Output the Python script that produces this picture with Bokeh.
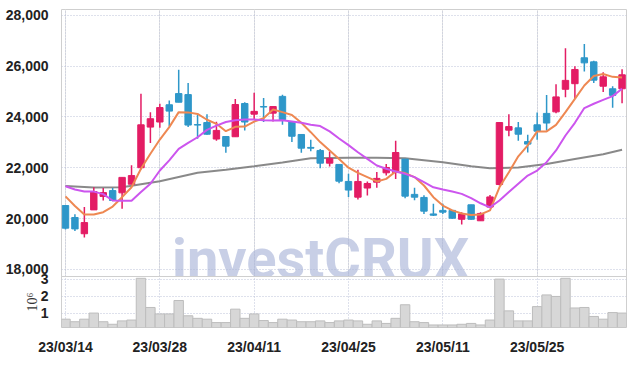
from bokeh.plotting import figure
from bokeh.layouts import column
from bokeh.models import Range1d, FixedTicker, Grid, Label, NumeralTickFormatter
from bokeh.embed import file_html
from bokeh.resources import INLINE

# ---- data ----
idx = list(range(60))
opens = [20510, 20040, 19400, 20340, 20870, 21100, 21010, 21350, 22000, 23600,
         23800, 24480, 24920, 24880, 23700, 23780, 23130, 23230, 23220, 24530,
         24110, 24410, 24150, 24810, 23820, 23310, 22800, 22680, 22180, 22130,
         21460, 20840, 21200, 21430, 21800, 21810, 22340, 20950, 20830, 20180,
         20320, 20320, 19970, 20540, 19910, 20450, 21340, 23480, 23570, 23030,
         23690, 24140, 24200, 25090, 25310, 26330, 26170, 25210, 25110, 25110]
highs = [20520, 20170, 20450, 21230, 21200, 21200, 21620, 22100, 24910, 24190,
         24520, 24650, 25860, 25340, 24080, 24110, 23810, 23230, 24710, 24580,
         24950, 24750, 24410, 24870, 23820, 23310, 23100, 22740, 22640, 22130,
         21760, 21920, 21460, 21830, 22150, 23060, 22340, 21210, 20920, 20580,
         20580, 20320, 20250, 20540, 20250, 20930, 23800, 24110, 23800, 23300,
         24180, 24860, 25290, 26710, 26000, 26870, 26210, 25760, 25210, 25880]
lows = [19570, 19510, 19250, 20340, 20710, 20680, 20380, 21350, 21930, 22970,
        23570, 23620, 24580, 23600, 23140, 23300, 23060, 22590, 23220, 23470,
        23900, 23800, 23820, 23690, 23010, 22590, 22650, 21980, 22050, 21390,
        20850, 20750, 20910, 21210, 21690, 21560, 20800, 20720, 20180, 20100,
        20180, 19990, 19760, 19950, 19910, 20410, 21300, 23240, 23060, 22600,
        23100, 23470, 24150, 24780, 24710, 25790, 25340, 24980, 24360, 24540]
closes = [19620, 19590, 19840, 21060, 21020, 20710, 21620, 21690, 23690, 23930,
          24370, 24230, 24580, 23680, 23680, 23320, 23470, 22850, 24490, 23800,
          24220, 24390, 24410, 23900, 23240, 22770, 22770, 22180, 22360, 21470,
          21120, 21460, 21380, 21580, 22010, 22600, 20880, 20840, 20290, 20130,
          20250, 20010, 20180, 19970, 20200, 20850, 23780, 23620, 23320, 22930,
          23440, 23760, 24790, 25440, 25870, 26130, 25450, 25580, 24850, 25660]
volumes = [0.64, 0.49, 0.64, 1.00, 0.49, 0.34, 0.54, 0.59, 3.05, 1.33,
           0.95, 0.95, 1.74, 0.84, 0.69, 0.64, 0.44, 0.44, 1.23, 0.69,
           0.95, 0.56, 0.44, 0.64, 0.59, 0.49, 0.49, 0.54, 0.44, 0.54,
           0.59, 0.54, 0.34, 0.54, 0.39, 0.69, 1.49, 0.49, 0.44, 0.30,
           0.30, 0.30, 0.34, 0.39, 0.30, 0.59, 3.00, 1.13, 0.54, 0.54,
           1.38, 2.07, 1.98, 3.05, 1.30, 1.33, 0.80, 0.64, 1.03, 1.00]
ma5 = [20870, 20490, 20160, 20160, 20250, 20470, 20840, 21230, 21960, 22550,
       23110, 23600, 24190, 24180, 24120, 23890, 23730, 23440, 23610, 23620,
       23820, 23950, 24290, 24190, 24080, 23770, 23400, 23010, 22680, 22340,
       22000, 21800, 21630, 21460, 21560, 21850, 21790, 21630, 21300, 20840,
       20510, 20320, 20200, 20140, 20160, 20320, 21230, 21820, 22450, 22880,
       23430, 23430, 23690, 24190, 24710, 25240, 25610, 25690, 25580, 25550]
ma10 = [21270, 21140, 21060, 21060, 20960, 20710, 20700, 20700, 21040, 21370,
        21890, 22290, 22740, 22980, 23200, 23490, 23660, 23800, 23870, 23900,
        23900, 23870, 23860, 23870, 23820, 23770, 23690, 23640, 23430, 23150,
        22890, 22610, 22350, 22090, 21960, 21850, 21760, 21630, 21430, 21230,
        21140, 21060, 20970, 20800, 20600, 20440, 20710, 21040, 21370, 21690,
        21890, 22220, 22680, 23270, 23770, 24350, 24520, 24670, 24820, 25110]
ma_long_idx = [0, 3, 6, 10, 14, 17, 20, 23, 26, 30, 33, 36, 40, 43, 45, 48, 51, 54, 57, 59]
ma_long = [21280, 21220, 21230, 21470, 21800, 21920, 22060, 22210, 22370, 22390,
           22390, 22370, 22220, 22060, 21980, 22010, 22150, 22340, 22530, 22710]
tick_idx = [0, 10, 20, 30, 40, 50]
tick_labels = ["23/03/14", "23/03/28", "23/04/11", "23/04/25", "23/05/11", "23/05/25"]
price_ticks = [18000, 20000, 22000, 24000, 26000, 28000]
vol_ticks = [1, 2, 3]

UP = "#e31c64"
DOWN = "#2e97c9"
GRID = "#bcc2d8"
LABEL_FONT = "Liberation Sans"
LABEL_SIZE = "14px"

xr = Range1d(-0.424, 59.47)

# main (price) panel: frame 9..276 px
p = figure(width=627, height=279, output_backend="svg", toolbar_location=None,
           x_range=xr, y_range=Range1d(17716, 28232), x_axis_location=None,
           min_border_left=61, min_border_right=1, min_border_top=9, min_border_bottom=3)
p.outline_line_color = "#cfcfcf"
p.yaxis.ticker = FixedTicker(ticks=price_ticks)
p.yaxis.formatter = NumeralTickFormatter(format="0,0")
p.yaxis.axis_line_color = None
p.yaxis.major_tick_line_color = None
p.yaxis.minor_tick_line_color = None
p.yaxis.major_label_standoff = 7
p.yaxis.major_label_text_font = LABEL_FONT
p.yaxis.major_label_text_font_style = "bold"
p.yaxis.major_label_text_font_size = LABEL_SIZE
p.yaxis.major_label_text_color = "#222222"
p.ygrid.grid_line_color = GRID
p.ygrid.grid_line_dash = "1 2"
p.add_layout(Grid(dimension=0, ticker=FixedTicker(ticks=tick_idx),
                  grid_line_color=GRID, grid_line_dash="1 2"))

colors = [UP if c >= o else DOWN for o, c in zip(opens, closes)]
body_top = [max(o, c) for o, c in zip(opens, closes)]
body_bot = [min(o, c) for o, c in zip(opens, closes)]

p.line(ma_long_idx, ma_long, line_color="#7c7c7c", line_width=2, line_alpha=0.9)
p.segment(x0=idx, y0=lows, x1=idx, y1=highs, line_color=colors, line_width=1.5)
p.vbar(x=idx, width=0.68, top=body_top, bottom=body_bot, fill_color=colors, line_color=colors)
p.line(idx, ma5, line_color="#ee8852", line_width=2)
p.line(idx, ma10, line_color="#cc55ee", line_width=2)

wm = Label(x=11.3, y=18420, text="investCRUX", text_font="Roboto",
           text_font_style="bold", text_font_size="56px", text_color="#aab6d8",
           text_alpha=0.65, text_baseline="middle", text_align="left")
p.add_layout(wm)

# volume panel: frame 276..337 px, overlapping the main canvas slightly
v = figure(width=627, height=85, output_backend="svg", toolbar_location=None,
           x_range=xr, y_range=Range1d(0.15, 3.155),
           min_border_left=61, min_border_right=1, min_border_top=4, min_border_bottom=20)
v.styles = {"margin-top": "-7px"}
v.background_fill_color = None
v.border_fill_color = None
v.outline_line_color = "#cfcfcf"
v.vbar(x=idx, width=1.0, top=volumes, bottom=0, fill_color="#d7d7d7", line_color="#bdbdbd")
v.yaxis.ticker = FixedTicker(ticks=vol_ticks)
v.yaxis.axis_label = "10\u2076"
v.yaxis.axis_label_text_font = "Liberation Serif"
v.yaxis.axis_label_text_font_style = "normal"
v.yaxis.axis_label_text_font_size = "14px"
v.yaxis.axis_label_text_color = "#333333"
v.yaxis.axis_label_standoff = -2
v.xaxis.ticker = FixedTicker(ticks=tick_idx)
v.xaxis.major_label_overrides = {i: s for i, s in zip(tick_idx, tick_labels)}
for ax in (v.xaxis, v.yaxis):
    ax.axis_line_color = None
    ax.major_tick_line_color = None
    ax.minor_tick_line_color = None
    ax.major_label_text_font = LABEL_FONT
    ax.major_label_text_font_style = "bold"
    ax.major_label_text_font_size = LABEL_SIZE
    ax.major_label_text_color = "#222222"
v.yaxis.major_label_standoff = 7
v.xaxis.major_label_standoff = 5
v.xgrid.grid_line_color = GRID
v.xgrid.grid_line_dash = "1 2"
v.ygrid.grid_line_color = GRID
v.ygrid.grid_line_dash = "1 2"

layout = column(p, v, spacing=0)
open("out.html", "w").write(file_html(layout, INLINE))
